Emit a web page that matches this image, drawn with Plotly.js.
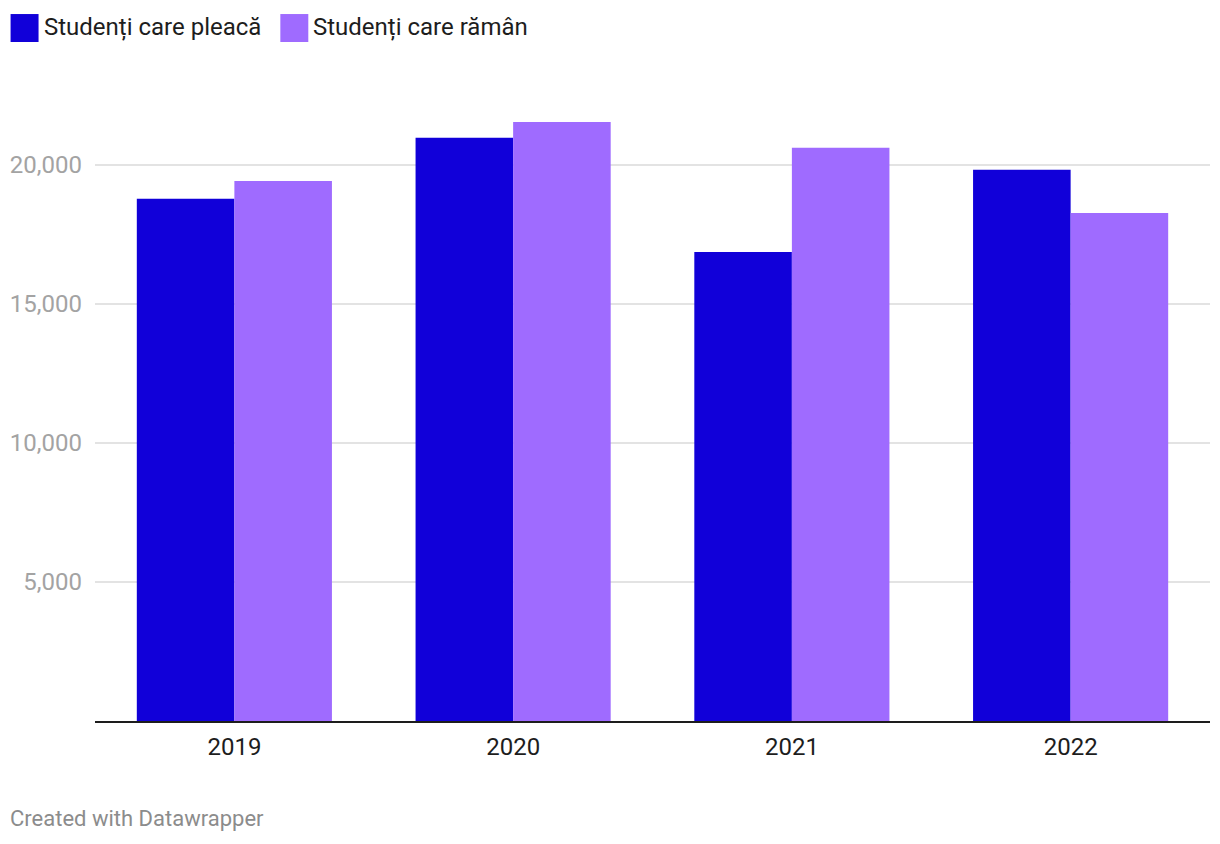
<!DOCTYPE html>
<html>
<head>
<meta charset="utf-8">
<script src="https://cdn.plot.ly/plotly-3.0.1.min.js"></script>
<style>
html,body{margin:0;padding:0;background:#fff;}
#chart{width:1220px;height:844px;}
</style>
</head>
<body>
<div id="chart"></div>
<script>
const years = ["2019", "2020", "2021", "2022"];
const seriesNames = ["Studenți care pleacă", "Studenți care rămân"];
const pleaca = [18770, 20960, 16860, 19810];
const raman = [19410, 21530, 20600, 18260];
const yTickVals = [5000, 10000, 15000, 20000];
const yTickText = ["5,000", "10,000", "15,000", "20,000"];
const footer = "Created with Datawrapper";

const colors = ["#1100d9", "#9f6bff"];
const W = 1220, H = 844;
const ml = 94.5, mr = W - 1210.5, mt = 95, mb = 844 - 721.3;
const plotW = W - ml - mr;
const plotH = H - mt - mb;
const px2x = p => (p - ml) / plotW;
const py2y = p => (H - mb - p) / plotH;

const traces = [
  {type: "bar", x: years, y: pleaca, name: seriesNames[0], marker: {color: colors[0], line: {width: 0}}, hoverinfo: "y"},
  {type: "bar", x: years, y: raman, name: seriesNames[1], marker: {color: colors[1], line: {width: 0}}, hoverinfo: "y"}
];

// legend swatches & labels (drawn as shapes/annotations in paper coords)
const legendItems = [{x0: 10, text: seriesNames[0], color: colors[0], tx: 41},
                     {x0: 280, text: seriesNames[1], color: colors[1], tx: 311}];
const shapes = legendItems.map(it => ({
  type: "rect", xref: "paper", yref: "paper",
  x0: px2x(it.x0), x1: px2x(it.x0 + 28), y0: py2y(42), y1: py2y(14),
  fillcolor: it.color, line: {width: 0}
}));
const annotations = legendItems.map(it => ({
  xref: "paper", yref: "paper", x: px2x(it.tx), y: py2y(27),
  xanchor: "left", yanchor: "middle", text: it.text, showarrow: false,
  font: {family: "Roboto", size: 24, color: "#1d1d1d"}
}));
annotations.push({
  xref: "paper", yref: "paper", x: px2x(7), y: py2y(819),
  xanchor: "left", yanchor: "middle", text: footer, showarrow: false,
  font: {family: "Roboto", size: 22, color: "#8c8c8c"}
});

const layout = {
  width: W, height: H,
  margin: {l: ml, r: mr, t: mt, b: mb, pad: 0},
  paper_bgcolor: "#fff", plot_bgcolor: "#fff",
  font: {family: "Roboto", size: 22, color: "#1d1d1d"},
  showlegend: false,
  barmode: "group", bargap: 0.3, bargroupgap: 0,
  xaxis: {
    type: "category", showgrid: false, zeroline: false,
    showline: true, linecolor: "#1d1d1d", linewidth: 2,
    ticks: "", ticklabelstandoff: 3,
    tickfont: {family: "Roboto", size: 24, color: "#1d1d1d"}
  },
  yaxis: {
    range: [0, 22500], tickvals: yTickVals, ticktext: yTickText,
    showgrid: true, gridcolor: "#e3e3e3", gridwidth: 2,
    zeroline: false, showline: false, ticks: "", ticklabelstandoff: 12,
    tickfont: {family: "Roboto", size: 24, color: "#a3a3a3"}
  },
  shapes: shapes,
  annotations: annotations
};

Plotly.newPlot("chart", traces, layout, {displayModeBar: false, staticPlot: true});
</script>
</body>
</html>
